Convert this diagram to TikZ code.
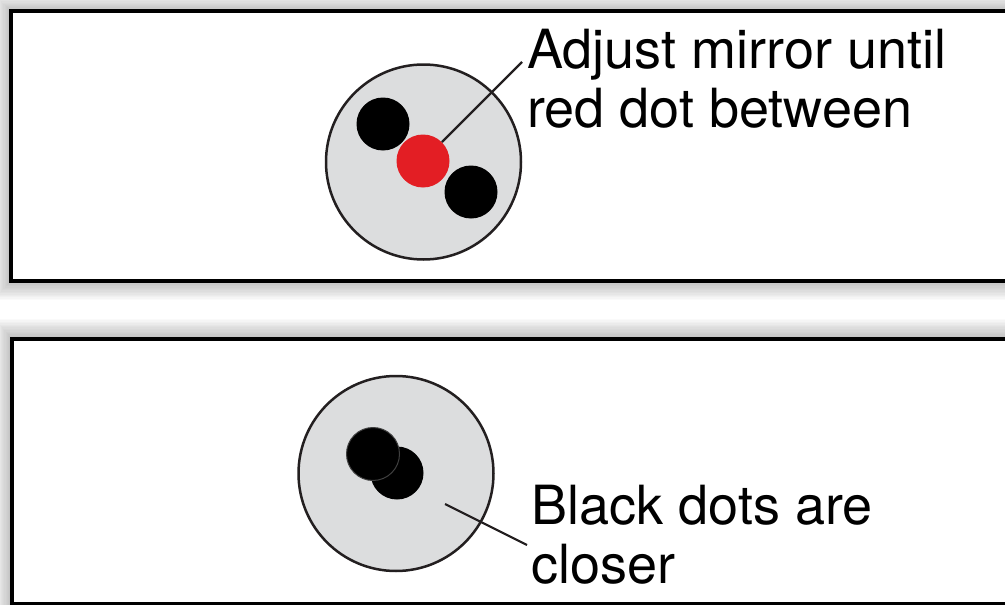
\documentclass[tikz,border=0pt]{standalone}
\usepackage{fontspec}
\setmainfont{TeX Gyre Heros}
\usetikzlibrary{calc}
\definecolor{scopegray}{RGB}{220,221,222}
\definecolor{dotred}{RGB}{227,30,36}
\definecolor{inkblack}{RGB}{35,31,32}

\begin{document}
\begin{tikzpicture}[x=1pt,y=-1pt,
  panel/.style={line width=4pt,draw=black,fill=white},
  scopedisc/.style={circle,draw=inkblack,line width=2.5pt,fill=scopegray,minimum size=195pt,inner sep=0},
  blackdot/.style={circle,fill=black,minimum size=53pt,inner sep=0},
  reddot/.style={circle,fill=dotred,minimum size=53pt,inner sep=0},
  lbl/.style={align=left,inner sep=0,font=\fontsize{54}{59}\selectfont},
  leader/.style={draw=inkblack,line width=2.2pt}]
  \useasboundingbox (0,0) rectangle (1005,605);
  \clip (0,0) rectangle (1005,605);
  % soft shadow round both panels
  \foreach \i in {1,...,14} {
    \fill[black,opacity=0.02] (10.5-\i*1.2,11-\i*1.2) rectangle (1030,280.5+\i*1.4);
    \fill[black,opacity=0.02] (11.5-\i*1.2,338.5-\i*1.4) rectangle (1030,640);
  }
  \draw[panel] (10.5,11) rectangle (1030,280.5);
  \draw[panel] (11.5,338.5) rectangle (1030,603.5);

  % top panel: red dot between
  \node[scopedisc] (topscope) at (423.5,162) {};
  \node[blackdot] (topdotA) at (383,124) {};
  \node[blackdot] (topdotB) at (471,192) {};
  \node[reddot] (reddot) at (423,161) {};
  \coordinate (topend) at (522,62);
  \draw[leader] (reddot) -- (topend);
  \node[lbl,anchor=base west] (toplbl) at (527,127) {Adjust mirror until\\red dot between};

  % bottom panel: dots closer
  \node[scopedisc] (lowscope) at (396,473.5) {};
  \node[blackdot] (lowdotB) at (397,473) {};
  \node[blackdot,draw=black!75,line width=1pt] (lowdotA) at (373,454) {};
  \coordinate (lowstart) at (445,504);
  \coordinate (lowend) at (527,545);
  \draw[leader] (lowstart) -- (lowend);
  \node[lbl,anchor=base west] (lowlbl) at (531,583) {Black dots are\\closer};
\end{tikzpicture}
\end{document}
